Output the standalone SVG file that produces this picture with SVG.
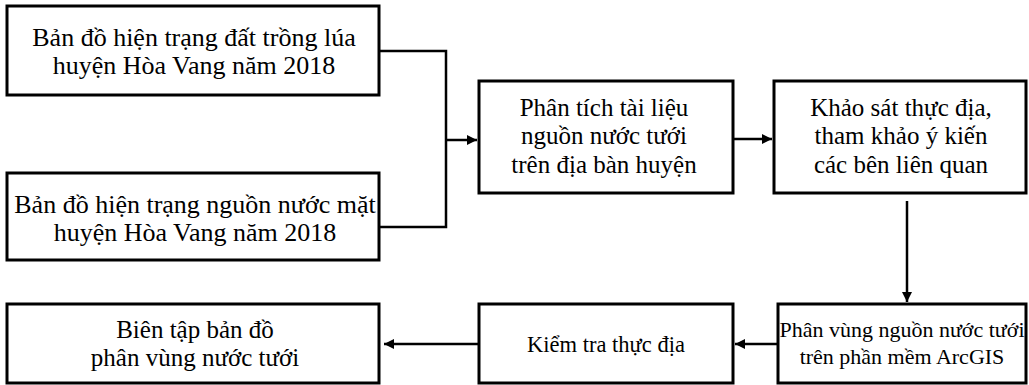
<svg xmlns="http://www.w3.org/2000/svg" width="1029" height="385" viewBox="0 0 1029 385">
<style>
.box{fill:#fff;stroke:#000;stroke-width:3}
.t{font-family:"Liberation Serif","Times New Roman",serif;fill:#000;text-anchor:middle;font-size:25px}
.l{font-size:26px}
.s{font-size:22px}
.m{font-size:22.5px}
.c{fill:none;stroke:#000;stroke-width:2.5}
</style>
<defs>
<marker id="ah" viewBox="0 0 10 10" refX="10" refY="5" markerWidth="4" markerHeight="4" orient="auto" markerUnits="strokeWidth">
<path d="M0,0 L10,5 L0,10 z" fill="#000"/>
</marker>
</defs>
<rect width="1029" height="385" fill="#fff"/>
<g id="connectors">
<path class="c" d="M379,51 H446 V227 H379"/>
<path class="c" d="M446,140 H477" marker-end="url(#ah)"/>
<path class="c" d="M733,139 H772" marker-end="url(#ah)"/>
<path class="c" d="M907,201 V302" marker-end="url(#ah)"/>
<path class="c" d="M778,344 H735" marker-end="url(#ah)"/>
<path class="c" d="M479,344 H384" marker-end="url(#ah)"/>
</g>
<g id="n1">
<rect class="box" x="7" y="6" width="372" height="89"/>
<text class="t l" x="194" y="46">Bản đồ hiện trạng đất trồng lúa</text>
<text class="t l" x="194" y="74">huyện Hòa Vang năm 2018</text>
</g>
<g id="n2">
<rect class="box" x="7" y="173" width="372" height="87"/>
<text class="t l" x="195" y="213">Bản đồ hiện trạng nguồn nước mặt</text>
<text class="t l" x="195" y="241">huyện Hòa Vang năm 2018</text>
</g>
<g id="n3">
<rect class="box" x="479" y="81" width="254" height="112"/>
<text class="t" x="604" y="116">Phân tích tài liệu</text>
<text class="t" x="604" y="144">nguồn nước tưới</text>
<text class="t" x="604" y="173">trên địa bàn huyện</text>
</g>
<g id="n4">
<rect class="box" x="774" y="81" width="252" height="112"/>
<text class="t" x="901" y="116">Khảo sát thực địa,</text>
<text class="t" x="901" y="144">tham khảo ý kiến</text>
<text class="t" x="901" y="173">các bên liên quan</text>
</g>
<g id="n5">
<rect class="box" x="778" y="304" width="248" height="79"/>
<text class="t s" x="902" y="337">Phân vùng nguồn nước tưới</text>
<text class="t s" x="902" y="364">trên phần mềm ArcGIS</text>
</g>
<g id="n6">
<rect class="box" x="479" y="304" width="254" height="79"/>
<text class="t m" x="606" y="352">Kiểm tra thực địa</text>
</g>
<g id="n7">
<rect class="box" x="7" y="304" width="372" height="79"/>
<text class="t" x="195" y="338">Biên tập bản đồ</text>
<text class="t" x="195" y="366">phân vùng nước tưới</text>
</g>
</svg>
